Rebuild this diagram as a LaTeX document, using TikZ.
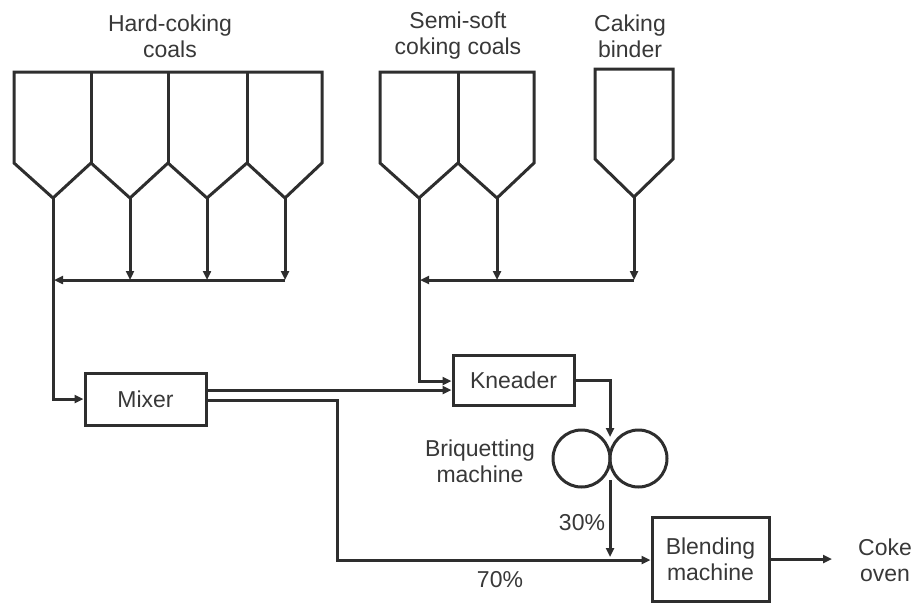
\documentclass[tikz,border=0pt]{standalone}
\usepackage{fontspec}
\setmainfont{Liberation Sans}
\usetikzlibrary{arrows.meta}
\definecolor{ink}{HTML}{2E2E2E}
\definecolor{txt}{HTML}{383838}
\tikzset{
  ln/.style={draw=ink, line width=3pt, line join=miter},
  arr/.style={ln, -{Triangle[length=9pt,width=8pt]}},
  box/.style={ln, fill=white, minimum height=#1, inner sep=0pt},
  lbl/.style={text=txt, align=center, font=\fontsize{23}{26}\selectfont, inner sep=0pt},
}
\begin{document}
\begin{tikzpicture}[x=1pt,y=-1pt]
\useasboundingbox (0,0) rectangle (915,603);
% hoppers: hard-coking coals
\draw[ln] (14,72) -- (322,72) -- (322,163) -- (285,198) -- (247,163) -- (207,198) -- (168,163) -- (130,198) -- (91,163) -- (53,198) -- (14,163) -- cycle;
\draw[ln] (91,72) -- (91,163) (168,72) -- (168,163) (247,72) -- (247,163);
% semi-soft coking coals
\draw[ln] (380,72) -- (534,72) -- (534,163) -- (497,198) -- (458,163) -- (419,198) -- (380,163) -- cycle;
\draw[ln] (458,72) -- (458,163);
% caking binder
\draw[ln] (595,69) -- (673,69) -- (673,159) -- (634,197) -- (595,159) -- cycle;
% tips
\coordinate (h1) at (53,198);
\coordinate (h2) at (130,198);
\coordinate (h3) at (207,198);
\coordinate (h4) at (285,198);
\coordinate (s1) at (419,198);
\coordinate (s2) at (497,198);
\coordinate (cb) at (634,197);
% bus coordinates
\coordinate (hb1) at (53,280);
\coordinate (hb2) at (130,280);
\coordinate (hb3) at (207,280);
\coordinate (hb4) at (285,280);
\coordinate (sb1) at (419,280);
\coordinate (sb2) at (497,280);
\coordinate (cbb) at (634,280);
% titles
\node[lbl] (thard) at (170,36) {Hard-coking\\coals};
\node[lbl] (tsemi) at (458,36) {Semi-soft\\coking coals};
\node[lbl] (tcak) at (630,36) {Caking\\binder};
% process boxes
\node[box=52pt, minimum width=121pt, lbl] (mixer) at (145.5,399) {Mixer};
\node[box=50pt, minimum width=121pt, lbl] (kneader) at (513.5,380) {Kneader};
\node[box=84pt, minimum width=117pt, lbl] (blend) at (710.5,559) {Blending\\machine};
% briquetting machine
\node[ln, circle, minimum size=57pt, inner sep=0pt] (rollL) at (581.5,458.5) {};
\node[ln, circle, minimum size=57pt, inner sep=0pt] (rollR) at (638.5,458.5) {};
\coordinate (bin) at (610,437);
\coordinate (bout) at (610,480);
\node[lbl] (tbriq) at (480,461) {Briquetting\\machine};
% feed lines hard-coking
\draw[arr] (h2) -- (hb2);
\draw[arr] (h3) -- (hb3);
\draw[arr] (h4) -- (hb4);
\draw[arr] (hb4) -- ([xshift=1pt]hb1);
\draw[arr] (h1) -- (53,399) -- (mixer.west);
% feed lines semi-soft and binder
\draw[arr] (s2) -- (sb2);
\draw[arr] (cb) -- (cbb);
\draw[arr] (cbb) -- ([xshift=1pt]sb1);
\draw[arr] (s1) -- (419,381) -- (kneader.west |- 0,381);
% mixer outputs
\draw[arr] (mixer.east |- 0,390) -- (kneader.west |- 0,390);
\draw[arr] (mixer.east |- 0,400) -- (337,400) -- (337,560) -- (blend.west |- 0,560);
% kneader to briquetting
\draw[arr] (kneader.east) -- (610,380) -- (bin);
\coordinate (j30) at (610,557);
\draw[arr] (bout) -- (j30);
% output
\coordinate (oven) at (832,559);
\draw[arr] (blend.east) -- (oven);
\node[lbl] (toven) at (885,560) {Coke\\oven};
\node[lbl] (p30) at (582,523) {30\%};
\node[lbl] (p70) at (500,580) {70\%};
\end{tikzpicture}
\end{document}
